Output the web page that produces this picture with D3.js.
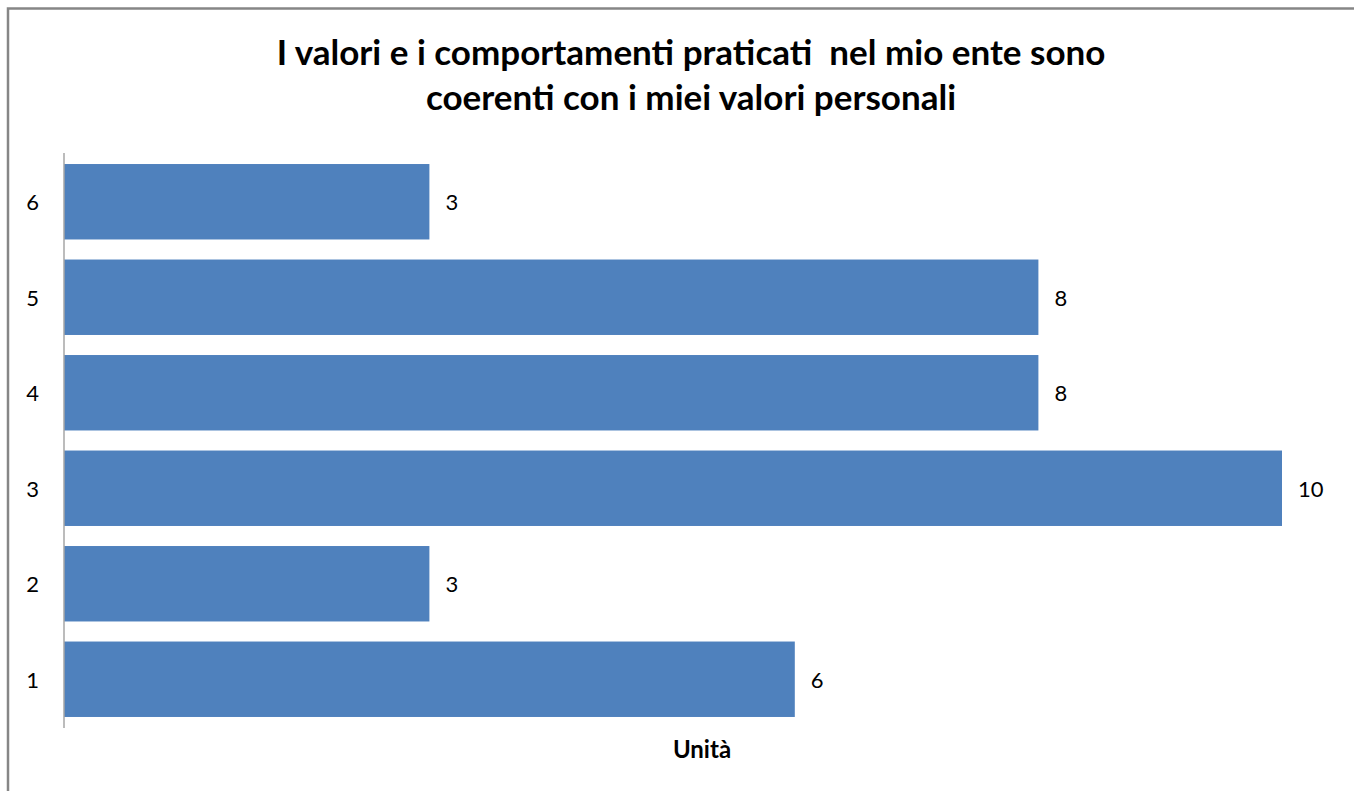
<!DOCTYPE html>
<html><head><meta charset="utf-8">
<script src="https://cdn.jsdelivr.net/npm/d3@7"></script>
<style>html,body{margin:0;padding:0;background:#fff;}</style>
</head><body>
<script>
const categories = ["1","2","3","4","5","6"];
const values = [6,3,10,8,8,3];
const titleLines = ["I valori e i comportamenti praticati  nel mio ente sono","coerenti con i miei valori personali"];
const axisTitle = "Unità";

const W=1354,H=791;
const svg=d3.select("body").append("svg").attr("width",W).attr("height",H);
svg.append("rect").attr("x",8).attr("y",8.5).attr("width",W+20).attr("height",H+20)
  .attr("fill","#fff").attr("stroke","#868686").attr("stroke-width",2.5);

const font="Lato, 'Open Sans', sans-serif";
svg.selectAll("text.title").data(titleLines).join("text").attr("class","title")
  .attr("x",691).attr("y",(d,i)=>65+i*45).attr("text-anchor","middle")
  .attr("font-family",font).attr("font-weight","bold").attr("font-size",35).attr("fill","#000")
  .style("white-space","pre").text(d=>d);

const x=d3.scaleLinear().domain([0,10]).range([64,1282]);
const y=d3.scaleBand().domain(categories).range([727,154]).paddingInner(0.21).paddingOuter(0.105);

svg.selectAll("rect.bar").data(categories).join("rect").attr("class","bar")
  .attr("x",x(0)).attr("y",d=>y(d)).attr("height",y.bandwidth())
  .attr("width",(d,i)=>x(values[i])-x(0)).attr("fill","#4F81BD");

svg.selectAll("text.val").data(categories).join("text").attr("class","val")
  .attr("x",(d,i)=>x(values[i])+16).attr("y",d=>y(d)+y.bandwidth()/2).attr("dy","0.38em")
  .attr("font-family",font).attr("font-size",22).attr("fill","#000").text((d,i)=>values[i]);

const ax=svg.append("g").attr("transform","translate(64,0)")
  .call(d3.axisLeft(y).tickSize(0).tickPadding(25));
ax.select(".domain").attr("stroke","#a6a6a6").attr("stroke-width",1.5).attr("d","M0,153V728");
ax.selectAll("text").attr("font-family",font).attr("font-size",22).attr("fill","#000").attr("dy","0.38em");

svg.append("text").attr("x",702).attr("y",758).attr("text-anchor","middle")
  .attr("font-family",font).attr("font-weight","bold").attr("font-size",24).attr("fill","#000").text(axisTitle);
</script>
</body></html>
